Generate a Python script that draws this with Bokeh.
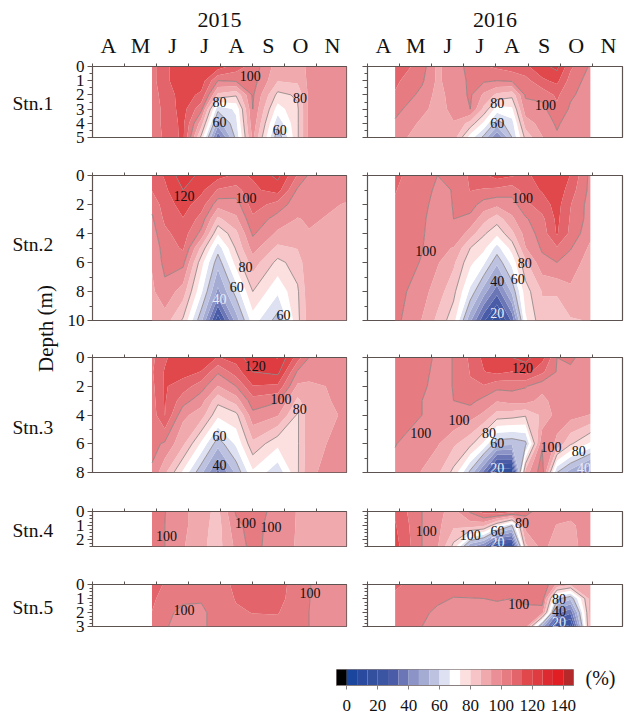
import math
import numpy as np
from bokeh.core.properties import value
from bokeh.embed import file_html
from bokeh.layouts import column, row
from bokeh.models import FixedTicker, LinearAxis, Range1d, Title
from bokeh.plotting import figure
from bokeh.resources import INLINE

MONTHS = ["A", "M", "J", "J", "A", "S", "O", "N"]
STATIONS = ["Stn.1", "Stn.2", "Stn.3", "Stn.4", "Stn.5"]
YEARS = ["2015", "2016"]

X15 = [1.86, 2.26, 2.83, 3.40, 3.92, 4.49, 5.01, 5.79, 6.41, 6.77, 7.94]
X16 = [0.86, 1.70, 2.18, 2.68, 3.20, 3.62, 4.03, 4.50, 4.92, 5.44, 5.90, 6.32, 6.94]

D1 = [0, 1, 2, 3, 4, 5]
D2 = [0, 1, 2, 3, 4, 5, 6, 8, 10]
D3 = [0, 1, 2, 3, 4, 6, 8]
D4 = [0, 1, 2.5]
D5 = [0, 1, 2, 3]

S1_15 = [
    [104, 112, 117, 118, 117, 110, 104, 90, 90, 95, 97],
    [104, 112, 117, 117, 100, 101, 103, 87, 88, 95, 97],
    [103, 110, 116, 112, 85, 81, 101, 78, 81, 95, 97],
    [102, 109, 116, 102, 62, 68, 100, 70, 79, 95, 97],
    [102, 109, 115, 90, 50, 65, 98, 62, 79, 95, 97],
    [102, 108, 115, 78, 35, 62, 95, 55, 79, 95, 97],
]
S1_16 = [
    [112, 103, 92, 97, 102, 106, 108, 110, 112, 118, 122, 108, 99],
    [108, 101, 92, 97, 101, 101, 100, 101, 104, 112, 115, 104, 97],
    [106, 98, 91, 96, 101, 92, 85, 82, 101, 102, 108, 101, 97],
    [102, 95, 91, 95, 100, 85, 70, 72, 97, 98, 105, 99, 96],
    [99, 92, 90, 93, 84, 72, 57, 64, 90, 96, 101, 97, 96],
    [96, 90, 90, 90, 70, 58, 40, 60, 82, 93, 99, 96, 95],
]
S2_15 = [
    [110, 114, 124, 118, 116, 112, 114, 122, 106, 99, 98],
    [107, 112, 120, 115, 106, 104, 112, 116, 99, 97, 95],
    [102, 110, 116, 110, 96, 97, 110, 104, 96, 95, 93],
    [99, 108, 113, 104, 85, 92, 105, 97, 93, 94, 92],
    [97, 105, 110, 98, 74, 85, 101, 92, 90, 93, 91],
    [95, 103, 107.6, 85, 63, 81, 96, 85, 87, 92, 91],
    [94, 102, 102, 76, 56, 76, 90, 78, 83, 92, 91],
    [92, 98, 90, 68, 45, 63, 80, 68, 79, 91, 91],
    [90, 90, 79, 55, 22, 50, 70, 57, 78, 90, 92],
]
S2_16 = [
    [108, 103, 100, 100.3, 108, 112, 116, 114, 112, 116, 120, 113, 98],
    [107, 102, 99, 100.2, 107, 106, 105, 103, 110, 114, 118, 110, 98],
    [106, 101.5, 98, 100.2, 103, 97, 95, 97, 105, 110, 116, 107, 97],
    [106, 101, 97, 100, 98, 89, 83, 92, 99, 105, 115, 106, 97],
    [105, 100.8, 96, 100, 90, 81, 75, 85, 96, 103, 114, 105, 95],
    [105, 100.3, 95, 93, 80, 75, 64, 76, 93, 101, 106, 100.5, 92],
    [104, 99.5, 94, 88, 75, 68, 55, 69, 85, 98, 100, 97, 90],
    [103, 96, 90, 82, 65, 50, 36, 55, 77, 87, 88, 92, 88],
    [102, 93, 85, 76, 48, 28, 15, 35, 72, 85, 80, 86, 87],
]
S3_15 = [
    [105, 112, 120, 118, 113, 116, 125, 127, 110, 100, 97],
    [106, 114, 116, 113, 101, 110, 120, 122, 99, 96, 96],
    [105, 114, 110, 103, 93, 100, 113, 112, 92, 92, 95],
    [104, 114, 103, 96, 82, 90, 104, 101, 85, 91, 95],
    [103, 113.6, 95, 90, 75, 78, 98, 94, 79, 91, 94],
    [102, 99, 88, 72, 56, 68, 85, 75, 79, 91, 96],
    [99, 88, 72, 55, 38, 55, 72, 62, 79, 92, 98],
]
S3_16 = [
    [104, 102, 99, 100.1, 108, 115, 118, 120, 122, 116, 100, 101, 97],
    [104, 101, 99, 100.1, 107, 113, 115, 113, 116, 108, 99.5, 99, 98],
    [103, 100.5, 99, 100.1, 106, 106, 102, 102, 100.5, 96, 98, 98, 97],
    [103, 100, 99, 100, 102, 98, 94, 96, 96, 91, 97, 97, 97],
    [102, 100, 98.5, 99.5, 96, 92, 84, 83, 81, 88, 96, 96, 93],
    [100.3, 96, 94, 88, 82, 72, 56, 55, 58, 99, 92, 81, 72],
    [98, 93, 88, 78, 58, 38, 14, 15, 90, 104, 60, 50, 38],
]
S4_15 = [
    [104, 100.2, 95, 89, 85, 101, 104, 97, 93, 91, 90],
    [104, 100, 95, 89, 84, 98, 103, 96, 93, 91, 90],
    [104, 100, 94, 88, 84, 95, 103, 95, 93, 91, 90],
]
S4_16 = [
    [112, 100, 95, 91, 101, 110, 113, 110, 102, 97, 97, 96, 97],
    [114, 100, 95, 88, 90, 88, 74, 60, 96, 97, 93, 92, 97],
    [116, 100, 94, 78, 48, 40, 18, 20, 85, 96, 89, 91, 97],
]
S5_15 = [
    [110, 106, 103, 103, 104, 108, 110, 110, 103, 100.2, 96],
    [108, 104, 101.5, 101, 104, 107, 108.5, 109, 103, 100.1, 96],
    [106.5, 102, 98, 98, 104, 106, 106.8, 107, 103, 100, 96],
    [105, 101, 96, 98, 104, 105, 105, 105, 103, 100, 96],
]
S5_16 = [
    [108, 103, 102, 102, 102, 102, 102, 102, 103, 106, 92, 88, 92],
    [105, 102, 101, 99.8, 99.9, 100, 100.5, 100, 101.5, 104, 62, 55, 90],
    [103, 101, 99, 98, 98, 98, 98, 99, 98, 96, 42, 35, 90],
    [102, 100, 97, 97, 97, 97, 97, 97, 97, 50, 22, 18, 90],
]

LEVEL_STEPS = list(range(-1, 23))
LINE_LEVELS = [60, 80, 100, 120]
PALETTE = [
    "#000000", "#1a469e", "#2a4a9f", "#33509f", "#3c55a3", "#4a5ca8", "#6a76b6",
    "#8b93c7", "#a5acd4", "#bcc2e0", "#dee1f1", "#ffffff", "#fcdfdf", "#f6c3c6",
    "#f0a9ad", "#ea8f95", "#e67c82", "#e3646a", "#e0484c", "#de3c40", "#dc2a30",
    "#e01e24", "#b5292b",
]
CB_TICKS = [0, 20, 40, 60, 80, 100, 120, 140]

# contour labels: text, month position, depth
L1_15 = [("100", 4.93, 0.7), ("80", 3.97, 2.5), ("60", 3.97, 3.9), ("80", 6.49, 2.2), ("60", 5.85, 4.5)]
L2_15 = [("120", 2.86, 1.43), ("100", 4.80, 1.54), ("80", 4.78, 6.3), ("60", 4.51, 7.7), ("60", 5.97, 9.6)]
L2_15W = [("40", 3.97, 8.5)]
L3_15 = [("120", 5.09, 0.6), ("100", 5.89, 2.9), ("80", 6.48, 3.55), ("60", 3.97, 5.45), ("40", 3.97, 7.5)]
L4_15 = [("100", 2.31, 1.72), ("100", 4.78, 0.85), ("100", 5.58, 1.13)]
L5_15 = [("100", 2.86, 1.8), ("100", 6.80, 0.62)]
L1_16 = [("80", 4.04, 2.55), ("60", 4.04, 4.0), ("100", 5.54, 2.7)]
L2_16 = [("100", 4.83, 1.56), ("100", 1.81, 5.2), ("80", 4.90, 6.05), ("60", 4.68, 7.15), ("40", 4.04, 7.3)]
L2_16W = [("20", 4.04, 9.47)]
L3_16 = [("120", 4.83, 0.74), ("100", 2.85, 4.37), ("100", 1.66, 5.28), ("80", 3.78, 5.26), ("60", 4.04, 5.95),
         ("100", 5.71, 6.2), ("80", 6.58, 6.49)]
L3_16W = [("20", 4.04, 7.67), ("40", 6.74, 7.67)]
L4_16 = [("100", 1.83, 1.38), ("100", 3.20, 1.71), ("60", 4.05, 1.38), ("80", 4.81, 0.79)]
L4_16W = [("20", 4.05, 2.19)]
L5_16 = [("100", 4.71, 1.4), ("80", 5.96, 1.0), ("40", 5.96, 1.88)]
L5_16W = [("20", 5.96, 2.67)]

SERIF = "Liberation Serif"
AXIS_COLOR = "#5c5250"
LINE_COLOR = "#8a8080"
levels = [k * 20 / 3 for k in LEVEL_STEPS]

ROWS = [
    dict(depths=D1, ymax=5, major=[0, 1, 2, 3, 4, 5], minor=[i / 2 for i in range(11)], top=66, h=71, bottom=13,
         z=(S1_15, S1_16), lab=(L1_15, L1_16), white=([], [])),
    dict(depths=D2, ymax=10, major=[0, 2, 4, 6, 8, 10], minor=list(range(11)), top=25, h=145, bottom=15,
         z=(S2_15, S2_16), lab=(L2_15, L2_16), white=(L2_15W, L2_16W)),
    dict(depths=D3, ymax=8, major=[0, 2, 4, 6, 8], minor=list(range(9)), top=22, h=115, bottom=18,
         z=(S3_15, S3_16), lab=(L3_15, L3_16), white=([], L3_16W)),
    dict(depths=D4, ymax=2.5, major=[0, 1, 2], minor=[i / 4 for i in range(11)], top=21, h=35, bottom=14,
         z=(S4_15, S4_16), lab=(L4_15, L4_16), white=([], L4_16W)),
    dict(depths=D5, ymax=3, major=[0, 1, 2, 3], minor=[i / 4 for i in range(13)], top=24, h=42, bottom=14,
         z=(S5_15, S5_16), lab=(L5_15, L5_16), white=([], L5_16W)),
]
PANEL_W = 255


def labels(p, items, color):
    if not items:
        return
    p.text(x=[i[1] for i in items], y=[i[2] for i in items], text=[i[0] for i in items],
           text_font=value(SERIF), text_font_size="14px", text_color=color,
           text_align="center", text_baseline="middle")


def panel(r, yi, first):
    left, right = (27, 9) if yi == 0 else (12, 3)
    p = figure(width=left + PANEL_W + right, height=r["top"] + r["h"] + r["bottom"],
               x_range=Range1d(0, 7.94), y_range=Range1d(r["ymax"], 0),
               x_axis_location=None, y_axis_location=None, toolbar_location=None,
               output_backend="svg", min_border_left=left, min_border_right=right,
               min_border_top=r["top"], min_border_bottom=r["bottom"])
    p.grid.visible = False
    p.outline_line_color = AXIS_COLOR
    p.outline_line_width = 1.2
    xs = X15 if yi == 0 else X16
    z = np.array(r["z"][yi], dtype=float)
    p.contour(xs, r["depths"], z, levels, fill_color=PALETTE, line_color=None)
    p.contour(xs, r["depths"], z, LINE_LEVELS, line_color=LINE_COLOR, line_width=0.8)
    labels(p, r["lab"][yi], "#111111")
    labels(p, r["white"][yi], "#e8ecf8")

    ax = LinearAxis(ticker=FixedTicker(ticks=list(range(9))), major_tick_in=0, major_tick_out=3,
                    minor_tick_out=0, minor_tick_in=0, major_tick_line_color=AXIS_COLOR,
                    axis_line_color=AXIS_COLOR, major_label_standoff=0, major_label_text_font_size="0px",
                    major_label_overrides={i: "" for i in range(9)})
    p.add_layout(ax, "above")
    if first:
        top = LinearAxis(ticker=FixedTicker(ticks=[i + 0.5 for i in range(8)]),
                         major_tick_line_color=None, minor_tick_line_color=None, axis_line_color=None,
                         major_label_overrides={i + 0.5: m for i, m in enumerate(MONTHS)},
                         major_label_text_font=SERIF, major_label_text_font_size="22px",
                         major_label_text_color="#111111", major_label_standoff=0)
        p.add_layout(top, "above")
        p.add_layout(Title(text=YEARS[yi], align="center", text_font=SERIF, text_font_size="22px",
                           text_font_style="normal", text_color="#111111", standoff=6), "above")
    yax = LinearAxis(ticker=FixedTicker(ticks=r["major"], minor_ticks=r["minor"]),
                     major_tick_in=0, major_tick_out=5, minor_tick_in=0, minor_tick_out=3,
                     major_tick_line_color=AXIS_COLOR, minor_tick_line_color=AXIS_COLOR,
                     axis_line_color=AXIS_COLOR, major_label_standoff=3,
                     major_label_text_font=SERIF, major_label_text_font_size="17px",
                     major_label_text_color="#111111")
    if yi == 1:
        yax.major_label_overrides = {t: "" for t in r["major"]}
    p.add_layout(yax, "left")
    return p


col15 = column(*[panel(r, 0, i == 0) for i, r in enumerate(ROWS)], spacing=0)
col16 = column(*[panel(r, 1, i == 0) for i, r in enumerate(ROWS)], spacing=0)

# left strip: station names and shared depth title
left = figure(width=64, height=640, x_range=Range1d(0, 64), y_range=Range1d(640, 0),
              x_axis_location=None, y_axis_location=None, toolbar_location=None, output_backend="svg",
              min_border=0, outline_line_color=None)
left.grid.visible = False
left.text(x=[12] * 5, y=[103, 244, 427, 530, 607], text=STATIONS, text_font=value(SERIF),
          text_font_size="19.5px", text_color="#111111", text_align="left", text_baseline="middle")
left.text(x=[45], y=[328], text=["Depth (m)"], angle=[math.pi / 2], text_font=value(SERIF),
          text_font_size="21px", text_color="#111111", text_align="center", text_baseline="middle")

# colour scale
cb = figure(width=625, height=73, x_range=Range1d(levels[0], levels[-1]), y_range=Range1d(0, 1),
            x_axis_location=None, y_axis_location=None, toolbar_location=None, output_backend="svg",
            min_border_left=336, min_border_right=52, min_border_top=29, min_border_bottom=28)
cb.grid.visible = False
cb.outline_line_color = "#8a8080"
cb.quad(left=levels[:-1], right=levels[1:], bottom=[0] * len(PALETTE), top=[1] * len(PALETTE),
        fill_color=PALETTE, line_color=None)
cax = LinearAxis(ticker=FixedTicker(ticks=CB_TICKS), major_tick_in=0, major_tick_out=4, minor_tick_out=0,
                 minor_tick_in=0, major_tick_line_color="#8a8080", axis_line_color="#8a8080",
                 major_label_standoff=10, major_label_text_font=SERIF, major_label_text_font_size="17px",
                 major_label_text_color="#111111")
cb.add_layout(cax, "below")
unit = LinearAxis(ticker=FixedTicker(ticks=[0.5]), major_label_overrides={0.5: "(%)"},
                  major_tick_line_color=None, minor_tick_line_color=None, axis_line_color=None,
                  major_label_standoff=6, major_label_text_font=SERIF, major_label_text_font_size="20px",
                  major_label_text_color="#111111", major_label_orientation="horizontal")
cb.add_layout(unit, "right")

page = column(row(left, col15, col16, spacing=0), cb, spacing=0)
open("out.html", "w").write(file_html(page, INLINE))
